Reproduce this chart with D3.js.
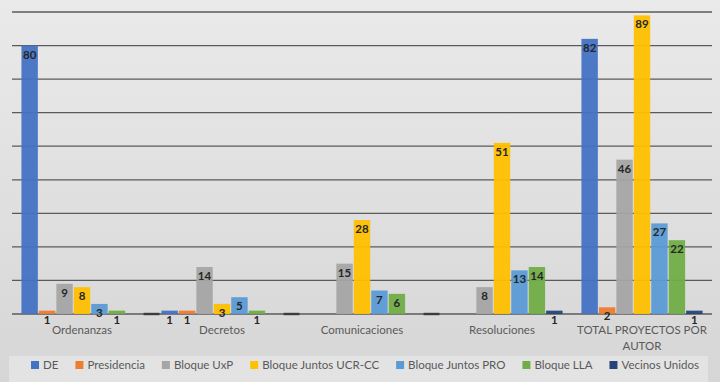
<!DOCTYPE html>
<html>
<head>
<meta charset="utf-8">
<script src="https://cdn.jsdelivr.net/npm/d3@7"></script>
<style>
  body { margin: 0; }
  svg { display: block; }
</style>
</head>
<body>
<div id="chart"></div>
<script>
// chart size
var width = 720;
var height = 382;

// data
var categorias = ["Ordenanzas", "Decretos", "Comunicaciones", "Resoluciones", "TOTAL PROYECTOS POR AUTOR"];
var series = ["DE", "Presidencia", "Bloque UxP", "Bloque Juntos UCR-CC", "Bloque Juntos PRO", "Bloque LLA", "Vecinos Unidos"];
var colores = ["#4472C4", "#ED7D31", "#A5A5A5", "#FFC000", "#5B9BD5", "#70AD47", "#264478"];
var valoresDE = [80, 1, 0, 0, 82];
var valoresPresidencia = [1, 1, 0, 0, 2];
var valoresUxP = [9, 14, 15, 8, 46];
var valoresUCR = [8, 3, 28, 51, 89];
var valoresPRO = [3, 5, 7, 13, 27];
var valoresLLA = [1, 1, 6, 14, 22];
var valoresVecinos = [0, 0, 0, 1, 1];
var ticksY = [0, 10, 20, 30, 40, 50, 60, 70, 80, 90];
// small dark marks seen on the baseline after these groups
var separadores = ["Ordenanzas", "Decretos", "Comunicaciones"];

var todos = [valoresDE, valoresPresidencia, valoresUxP, valoresUCR, valoresPRO, valoresLLA, valoresVecinos];

// build a row per category
var filas = categorias.map(function(c, i) {
  return {
    cat: c,
    vals: series.map(function(s, j) { return { serie: s, valor: todos[j][i], color: colores[j] }; })
  };
});

var svg = d3.select("#chart").append("svg")
  .attr("width", width)
  .attr("height", height);

// background
var grad = svg.append("defs").append("linearGradient")
  .attr("id", "fondo").attr("x1", 0).attr("y1", 0).attr("x2", 0).attr("y2", 1);
grad.append("stop").attr("offset", "0%").attr("stop-color", "#eaeaea");
grad.append("stop").attr("offset", "100%").attr("stop-color", "#d6d6d6");
svg.append("rect").attr("width", width).attr("height", height).attr("fill", "url(#fondo)");

// scales
var x0 = d3.scaleBand()
  .domain(categorias)
  .range([12, 712])
  .paddingInner(0.135)
  .paddingOuter(0.0675);

var x1 = d3.scaleBand()
  .domain(series)
  .range([0, x0.bandwidth()])
  .paddingInner(0.06);

var y = d3.scaleLinear()
  .domain([0, 90])
  .range([314, 12]);

// gridlines
svg.append("g")
  .selectAll("line")
  .data(ticksY)
  .enter()
  .append("line")
  .attr("x1", 12)
  .attr("x2", 712)
  .attr("y1", function(d) { return y(d); })
  .attr("y2", function(d) { return y(d); })
  .attr("stroke", "#5a5a5a")
  .attr("stroke-width", 1.3);

// bars
var grupos = svg.selectAll("g.grupo")
  .data(filas)
  .enter()
  .append("g")
  .attr("class", "grupo")
  .attr("transform", function(d) { return "translate(" + x0(d.cat) + ",0)"; });

grupos.selectAll("rect")
  .data(function(d) { return d.vals; })
  .enter()
  .append("rect")
  .attr("x", function(d) { return x1(d.serie); })
  .attr("width", x1.bandwidth())
  .attr("y", function(d) { return y(d.valor); })
  .attr("height", function(d) { return y(0) - y(d.valor); })
  .attr("fill", function(d) { return d.color; })
  .attr("opacity", 0.95);

// baseline marks between groups
svg.append("g")
  .selectAll("rect")
  .data(separadores)
  .enter()
  .append("rect")
  .attr("x", function(d) { return x0(d) + x0.bandwidth() + 1; })
  .attr("width", x0.step() - x0.bandwidth() - 3)
  .attr("y", y(0) - 1.2)
  .attr("height", 2.4)
  .attr("fill", "#3c3c3c");

// category labels
var etiquetas = svg.append("g")
  .selectAll("text")
  .data(categorias)
  .enter()
  .append("text")
  .attr("x", function(d) { return x0(d) + x0.bandwidth() / 2; })
  .attr("y", 334)
  .attr("text-anchor", "middle")
  .attr("font-family", "Lato, 'Liberation Sans', sans-serif")
  .attr("font-size", "11.5px")
  .attr("fill", "#595959");

etiquetas.each(function(d) {
  var t = d3.select(this);
  if (d == "TOTAL PROYECTOS POR AUTOR") {
    t.append("tspan").attr("x", t.attr("x")).text("TOTAL PROYECTOS POR");
    t.append("tspan").attr("x", t.attr("x")).attr("dy", 16).text("AUTOR");
  } else {
    t.text(d);
  }
});

// data labels (inside end), drawn above the category labels
grupos.selectAll("text")
  .data(function(d) { return d.vals.filter(function(v) { return v.valor > 0; }); })
  .enter()
  .append("text")
  .attr("x", function(d) { return x1(d.serie) + x1.bandwidth() / 2; })
  .attr("y", function(d) { return y(d.valor) + 13; })
  .attr("text-anchor", "middle")
  .attr("font-family", "Lato, 'Liberation Sans', sans-serif")
  .attr("font-size", "11.5px")
  .attr("font-weight", "bold")
  .attr("fill", "#262626")
  .text(function(d) { return d.valor; });
grupos.raise();

// legend
svg.append("rect")
  .attr("x", 9).attr("y", 356)
  .attr("width", 699).attr("height", 26)
  .attr("fill", "#e3e3e3");

var leyenda = svg.append("g");
var pos = 0;
series.forEach(function(s, i) {
  var item = leyenda.append("g").attr("transform", "translate(" + pos + ",0)");
  item.append("rect")
    .attr("x", 0).attr("y", 361)
    .attr("width", 8).attr("height", 8)
    .attr("fill", colores[i]);
  var txt = item.append("text")
    .attr("x", 12).attr("y", 369)
    .attr("font-family", "Lato, 'Liberation Sans', sans-serif")
    .attr("font-size", "11.5px")
    .attr("fill", "#595959")
    .text(s);
  pos += 12 + txt.node().getComputedTextLength() + 17;
});
var anchoLeyenda = pos - 17;
leyenda.attr("transform", "translate(" + (365 - anchoLeyenda / 2) + ",0)");
</script>
</body>
</html>
